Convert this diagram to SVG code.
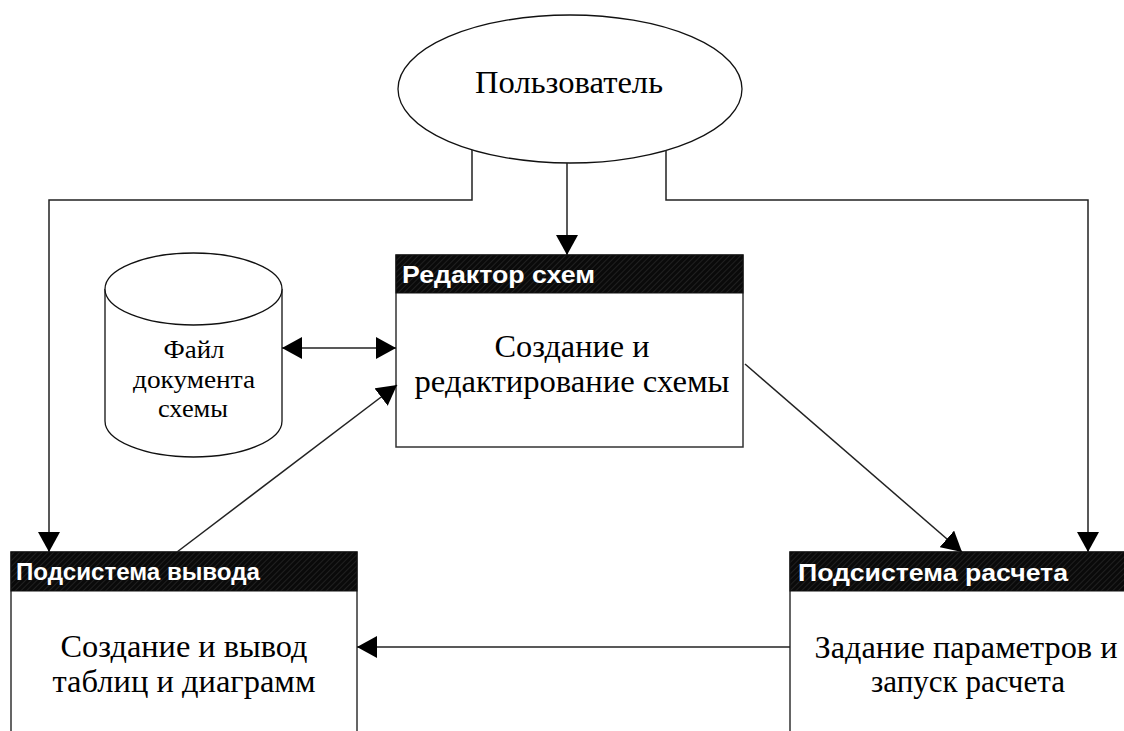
<svg xmlns="http://www.w3.org/2000/svg" width="1124" height="731" viewBox="0 0 1124 731">
<style>
.ln{fill:none;stroke:#222;stroke-width:1.5}
.box{fill:#fff;stroke:#333;stroke-width:1.5}
.shape{fill:#fff;stroke:#111;stroke-width:1.3}
.hdr{fill:url(#hatch);stroke:#111;stroke-width:1}
.ht{font-family:"Liberation Sans",Arial,sans-serif;font-weight:bold;font-size:24px;fill:#fff}
.bt{font-family:"Liberation Serif","Times New Roman",serif;font-size:32px;fill:#000;text-anchor:middle}
.ct{font-family:"Liberation Serif","Times New Roman",serif;font-size:26px;fill:#000;text-anchor:middle}
</style>
<defs>
<pattern id="hatch" width="4" height="4" patternUnits="userSpaceOnUse" patternTransform="rotate(45)">
<rect width="4" height="4" fill="#0a0a0a"/>
<line x1="0" y1="0" x2="0" y2="4" stroke="#363636" stroke-width="1"/>
</pattern>
<marker id="ah" markerUnits="userSpaceOnUse" markerWidth="22" markerHeight="22" refX="20" refY="11" orient="auto-start-reverse" viewBox="0 0 22 22">
<path d="M0,0 L20,11 L0,22 z" fill="#000"/>
</marker>
</defs>

<g id="user">
<ellipse class="shape" cx="570" cy="89" rx="172" ry="74"/>
<text class="bt" x="569" y="93" textLength="188" lengthAdjust="spacingAndGlyphs">Пользователь</text>
</g>

<g id="file">
<path class="shape" d="M105,289 V421 A88.5,36 0 0 0 282,421 V289"/>
<ellipse class="shape" cx="193.5" cy="289" rx="88.5" ry="36"/>
<text class="ct" x="194" y="358" textLength="61" lengthAdjust="spacingAndGlyphs">Файл</text>
<text class="ct" x="194" y="388" textLength="122" lengthAdjust="spacingAndGlyphs">документа</text>
<text class="ct" x="193" y="417" textLength="70" lengthAdjust="spacingAndGlyphs">схемы</text>
</g>

<g id="editor">
<rect class="box" x="396" y="255" width="347" height="192"/>
<rect class="hdr" x="396" y="255" width="347" height="38"/>
<text class="ht" x="402" y="283" textLength="193" lengthAdjust="spacingAndGlyphs">Редактор схем</text>
<text class="bt" x="572" y="357" textLength="155" lengthAdjust="spacingAndGlyphs">Создание и</text>
<text class="bt" x="572" y="392" textLength="315" lengthAdjust="spacingAndGlyphs">редактирование схемы</text>
</g>

<g id="output">
<rect class="box" x="11" y="552" width="346" height="200"/>
<rect class="hdr" x="11" y="552" width="346" height="39"/>
<text class="ht" x="16" y="580" textLength="244" lengthAdjust="spacingAndGlyphs">Подсистема вывода</text>
<text class="bt" x="184" y="657" textLength="247" lengthAdjust="spacingAndGlyphs">Создание и вывод</text>
<text class="bt" x="184" y="692" textLength="263" lengthAdjust="spacingAndGlyphs">таблиц и диаграмм</text>
</g>

<g id="calc">
<rect class="box" x="790" y="552" width="350" height="200"/>
<rect class="hdr" x="790" y="552" width="350" height="39"/>
<text class="ht" x="798" y="581" textLength="270" lengthAdjust="spacingAndGlyphs">Подсистема расчета</text>
<text class="bt" x="966" y="658" textLength="303" lengthAdjust="spacingAndGlyphs">Задание параметров и</text>
<text class="bt" x="968" y="692" textLength="194" lengthAdjust="spacingAndGlyphs">запуск расчета</text>
</g>

<g id="connectors">
<path class="ln" d="M472,150 V200 H49 V552" marker-end="url(#ah)"/>
<path class="ln" d="M567,163 V255" marker-end="url(#ah)"/>
<path class="ln" d="M666,150 V200 H1088 V552" marker-end="url(#ah)"/>
<path class="ln" d="M282,348 H396" marker-start="url(#ah)" marker-end="url(#ah)"/>
<path class="ln" d="M177,552 L397,385" marker-end="url(#ah)"/>
<path class="ln" d="M745,364 L962,552" marker-end="url(#ah)"/>
<path class="ln" d="M790,647 H357" marker-end="url(#ah)"/>
</g>
</svg>
